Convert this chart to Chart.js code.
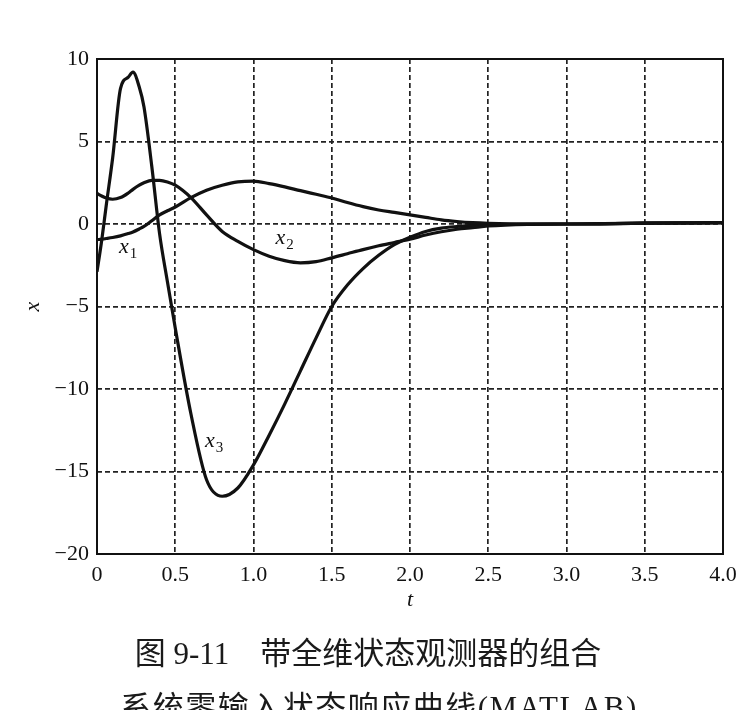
<!DOCTYPE html>
<html>
<head>
<meta charset="utf-8">
<script src="https://cdn.jsdelivr.net/npm/chart.js@4"></script>
<style>
    html, body { margin: 0; padding: 0; background: #fff; overflow: hidden; }
    #wrap { position: relative; width: 750px; height: 710px; overflow: hidden; }
    .caption {
        position: absolute; left: 0; width: 750px; text-align: center;
        font-family: "Liberation Serif", "Noto Sans CJK SC", serif;
        font-size: 31px; color: #1a1a1a; white-space: pre;
    }
</style>
</head>
<body>
<div id="wrap">
    <canvas id="chartResp"></canvas>
    <div class="caption" style="top: 628px; left: -7px;">图 9-11　带全维状态观测器的组合</div>
    <div class="caption" style="top: 682px; left: 4px; letter-spacing: 1.5px;">系统零输入状态响应曲线(MATLAB)</div>
</div>
<script>
        // tempo (s)
        const tValues = [0, 0.03, 0.06, 0.1, 0.15, 0.2, 0.23, 0.27, 0.3, 0.35, 0.4, 0.45, 0.5, 0.6, 0.7, 0.8, 0.9, 1.0,
            1.1, 1.2, 1.3, 1.4, 1.5, 1.6, 1.7, 1.8, 1.9, 2.0, 2.1, 2.2, 2.3, 2.4, 2.5, 2.75, 3.0, 3.5, 4.0];

        // estados x1, x2, x3
        const x1Values = [-0.95, -0.92, -0.88, -0.82, -0.72, -0.58, -0.48, -0.3, -0.15, 0.2, 0.55, 0.8, 1.03, 1.6, 2.05, 2.35, 2.55, 2.6,
            2.45, 2.25, 2.02, 1.8, 1.58, 1.3, 1.05, 0.85, 0.7, 0.55, 0.4, 0.25, 0.15, 0.08, 0.04, 0, 0, 0.05, 0.08];
        const x2Values = [1.85, 1.7, 1.57, 1.5, 1.6, 1.88, 2.1, 2.35, 2.5, 2.65, 2.65, 2.55, 2.35, 1.6, 0.55, -0.45, -1.05, -1.55,
            -1.95, -2.22, -2.35, -2.28, -2.05, -1.8, -1.55, -1.32, -1.12, -0.92, -0.67, -0.47, -0.32, -0.22, -0.12, -0.02, 0, 0.05, 0.08];
        const x3Values = [-2.9, -1.0, 1.2, 4.0, 8.2, 8.9, 9.2, 8.3, 7.1, 3.5, -0.6, -3.5, -6.3, -11.5, -15.5, -16.5, -16.0, -14.6,
            -12.8, -10.9, -8.9, -6.9, -5.0, -3.7, -2.7, -1.9, -1.25, -0.8, -0.45, -0.25, -0.15, -0.08, -0.04, 0, 0, 0.05, 0.08];

        // eixos
        const xTicks = [0, 0.5, 1.0, 1.5, 2.0, 2.5, 3.0, 3.5, 4.0];
        const xTickLabels = ['0', '0.5', '1.0', '1.5', '2.0', '2.5', '3.0', '3.5', '4.0'];
        const yTicks = [-20, -15, -10, -5, 0, 5, 10];
        const yTickLabels = ['\u221220', '\u221215', '\u221210', '\u22125', '0', '5', '10'];

        const seriesNames = ['x1', 'x2', 'x3'];
        const seriesValues = [x1Values, x2Values, x3Values];

        const serif = '"Liberation Serif", "Times New Roman", serif';

        // rótulos das curvas (posição em unidades do gráfico)
        const curveLabels = [
            { sub: '1', t: 0.14, v: -1.75 },
            { sub: '2', t: 1.14, v: -1.2 },
            { sub: '3', t: 0.69, v: -13.5 }
        ];

        new Chart(document.getElementById('chartResp'), {
            type: 'line',
            data: {
                datasets: seriesValues.map((vals, i) => ({
                    label: seriesNames[i],
                    data: tValues.map((t, k) => ({ x: t, y: vals[k] })),
                    borderColor: '#111',
                    borderWidth: 3.2,
                    pointRadius: 0,
                    fill: false,
                    cubicInterpolationMode: 'monotone'
                }))
            },
            options: {
                responsive: true,
                maintainAspectRatio: false,
                animation: false,
                layout: { padding: { left: 0, top: 59, right: 27, bottom: 95 } },
                plugins: {
                    legend: { display: false },
                    tooltip: { enabled: false }
                },
                scales: {
                    x: {
                        type: 'linear',
                        min: 0,
                        max: 4,
                        afterBuildTicks: (scale) => { scale.ticks = xTicks.map(v => ({ value: v })); },
                        afterFit: (scale) => { scale.height = 61; },
                        ticks: {
                            color: '#111',
                            font: { family: serif, size: 22 },
                            padding: 8,
                            maxRotation: 0,
                            autoSkip: false,
                            callback: (v, i) => xTickLabels[i]
                        },
                        grid: { color: '#222', lineWidth: 1.7, drawTicks: false },
                        border: { display: false, dash: [5, 3] },
                        title: {
                            display: true,
                            text: 't',
                            color: '#111',
                            font: { family: serif, size: 22, style: 'italic' },
                            padding: { top: 0, bottom: 2 }
                        }
                    },
                    y: {
                        min: -20,
                        max: 10,
                        afterBuildTicks: (scale) => { scale.ticks = yTicks.map(v => ({ value: v })); },
                        afterFit: (scale) => { scale.width = 97; },
                        ticks: {
                            color: '#111',
                            font: { family: serif, size: 22 },
                            padding: 8,
                            autoSkip: false,
                            callback: (v, i) => yTickLabels[i]
                        },
                        grid: { color: '#222', lineWidth: 1.7, drawTicks: false },
                        border: { display: false, dash: [5, 3] },
                        title: {
                            display: true,
                            text: 'x',
                            color: '#111',
                            font: { family: serif, size: 22, style: 'italic' },
                            padding: { top: 20, bottom: 0 }
                        }
                    }
                }
            },
            plugins: [{
                id: 'moldura',
                afterDraw(chart) {
                    const { ctx, chartArea: { left, top, right, bottom } } = chart;
                    const xs = chart.scales.x, ys = chart.scales.y;
                    ctx.save();
                    // caixa dos eixos
                    ctx.strokeStyle = '#111';
                    ctx.lineWidth = 2;
                    ctx.setLineDash([]);
                    ctx.strokeRect(left, top, right - left, bottom - top);

                    // rótulos x1, x2, x3
                    ctx.fillStyle = '#111';
                    ctx.textBaseline = 'alphabetic';
                    ctx.textAlign = 'left';
                    curveLabels.forEach(l => {
                        const px = xs.getPixelForValue(l.t);
                        const py = ys.getPixelForValue(l.v);
                        ctx.font = 'italic 22px ' + serif;
                        ctx.fillText('x', px, py);
                        const w = ctx.measureText('x').width;
                        ctx.font = '15px ' + serif;
                        ctx.fillText(l.sub, px + w + 1, py + 5);
                    });
                    ctx.restore();
                }
            }]
        });
</script>
</body>
</html>
